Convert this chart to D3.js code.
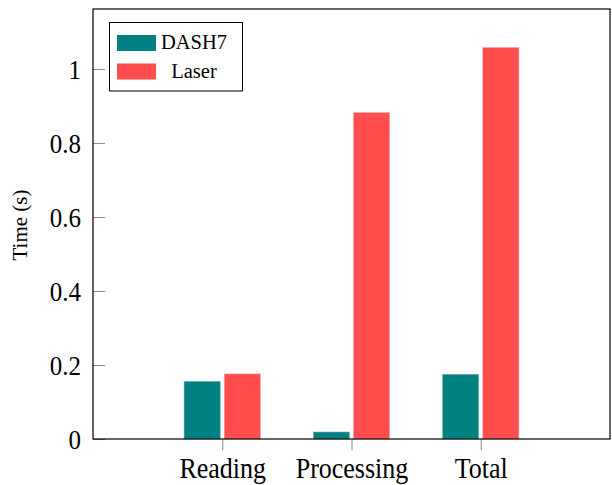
<!DOCTYPE html>
<html>
<head>
<meta charset="utf-8">
<script src="https://cdn.jsdelivr.net/npm/d3@7"></script>
<style>
  html, body { margin: 0; padding: 0; background: #fff; }
  svg { display: block; }
  text { font-family: "Liberation Serif", "Times New Roman", serif; fill: #000; }
</style>
</head>
<body>
<svg id="chart" width="612" height="485"></svg>
<script>
// ---- data ----
const categories = ["Reading", "Processing", "Total"];
const seriesNames = ["DASH7", "Laser"];
const dash7Values = [0.156, 0.019, 0.175];
const laserValues = [0.176, 0.882, 1.058];
const yTickValues = [0, 0.2, 0.4, 0.6, 0.8, 1];
const yTickLabels = ["0", "0.2", "0.4", "0.6", "0.8", "1"];
const seriesColors = ["#008080", "#FF4D4D"];
const yLabel = "Time (s)";

// ---- layout ----
const plot = { left: 93, right: 610, top: 9, bottom: 439 };
const svg = d3.select("#chart");

const x = d3.scaleLinear().domain([-1, categories.length]).range([plot.left, plot.right]);
const y = d3.scaleLinear().domain([0, 1.162]).range([plot.bottom, plot.top]);
const step = x(1) - x(0);
const barW = step * 0.28;
const gap = 2;

const series = [dash7Values, laserValues];

// bars
series.forEach((vals, si) => {
  svg.append("g").selectAll("rect")
    .data(vals)
    .join("rect")
    .attr("x", (d, i) => si === 0 ? x(i) - gap - barW : x(i) + gap)
    .attr("y", d => y(d))
    .attr("width", barW)
    .attr("height", d => y(0) - y(d))
    .attr("fill", seriesColors[si])
    .attr("stroke", si === 0 ? "#7fbfbf" : "#ffa6a6")
    .attr("stroke-width", 0.6);
});

// y axis ticks (inside)
const yAxis = d3.axisLeft(y).tickValues(yTickValues).tickSize(-12).tickPadding(24)
  .tickFormat((d, i) => yTickLabels[i]);
const gy = svg.append("g").attr("transform", `translate(${plot.left},0)`).call(yAxis);
gy.select(".domain").remove();
gy.selectAll(".tick line").attr("stroke", "#888").attr("stroke-width", 1);
gy.selectAll(".tick text").attr("font-size", 25).attr("font-family", "Liberation Serif")
  .attr("dy", "0.36em").attr("x", -12)
  .attr("transform", "scale(1,1.08)");
gy.selectAll(".tick").each(function(d) {
  // compensate vertical stretch so labels stay centred on the tick
  d3.select(this).select("text").attr("y", 0);
});

// x axis ticks (outside)
const xAxis = d3.axisBottom(x).tickValues(d3.range(categories.length)).tickSize(11).tickPadding(0)
  .tickFormat((d) => categories[d]);
const gx = svg.append("g").attr("transform", `translate(0,${plot.bottom})`).call(xAxis);
gx.select(".domain").remove();
gx.selectAll(".tick line").attr("stroke", "#888").attr("stroke-width", 1);
gx.selectAll(".tick text").attr("font-size", 26).attr("font-family", "Liberation Serif")
  .attr("y", 0).attr("dy", 0)
  .attr("transform", "translate(0,38.5) scale(1,1.1)");

// plot frame
svg.append("rect")
  .attr("x", plot.left).attr("y", plot.top)
  .attr("width", plot.right - plot.left).attr("height", plot.bottom - plot.top)
  .attr("fill", "none").attr("stroke", "#000").attr("stroke-width", 1.2);

// y label
svg.append("text")
  .attr("transform", `translate(27,225) rotate(-90)`)
  .attr("text-anchor", "middle")
  .attr("font-size", 21)
  .text(yLabel);

// legend
const lg = svg.append("g");
lg.append("rect").attr("x", 109.5).attr("y", 22.5).attr("width", 133).attr("height", 68.5)
  .attr("fill", "#fff").attr("stroke", "#000").attr("stroke-width", 1);
seriesNames.forEach((name, i) => {
  const yy = 35 + i * 28.5;
  lg.append("rect").attr("x", 117).attr("y", yy).attr("width", 39).attr("height", 16)
    .attr("fill", seriesColors[i]);
  lg.append("text").attr("x", 194).attr("y", yy + 14).attr("text-anchor", "middle")
    .attr("font-size", 20.5).text(name);
});
</script>
</body>
</html>
